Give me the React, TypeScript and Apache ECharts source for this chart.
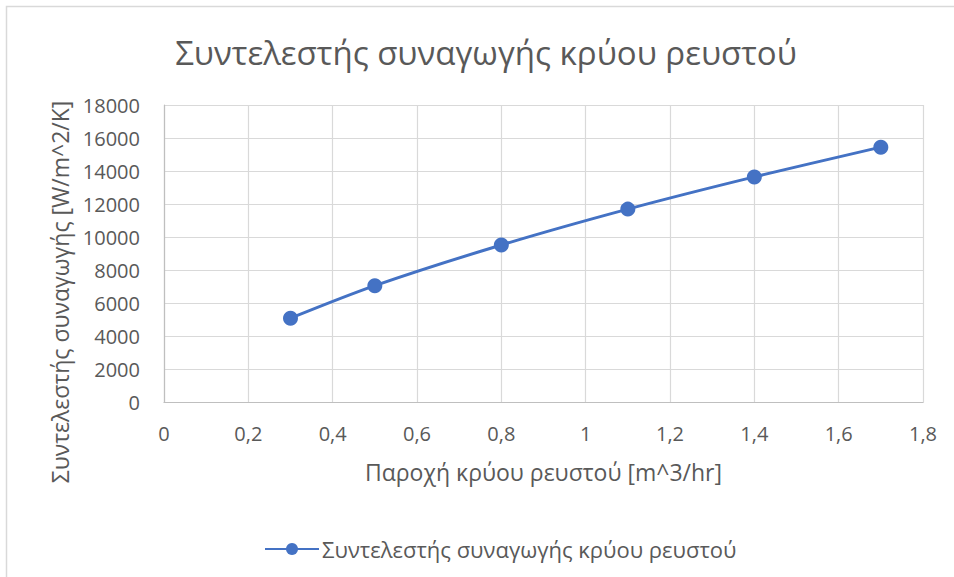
import React, { useEffect, useRef } from "react";
import * as echarts from "echarts";

// Flow rate of the cold fluid [m^3/hr]
const flowRates = [0.3, 0.5, 0.8, 1.1, 1.4, 1.7];
// Heat transfer coefficient of the cold fluid [W/m^2/K]
const coefficients = [5100, 7070, 9530, 11700, 13650, 15450];

const seriesName = "Συντελεστής συναγωγής κρύου ρευστού";
const chartTitle = "Συντελεστής συναγωγής κρύου ρευστού";
const xAxisTitle = "Παροχή κρύου ρευστού [m^3/hr]";
const yAxisTitle = "Συντελεστής συναγωγής [W/m^2/K]";

const FONT = "'Open Sans', 'Noto Sans', sans-serif";
const TEXT = "#595959";
const BLUE = "#4472C4";

export default function App() {
  const ref = useRef<HTMLDivElement>(null);

  useEffect(() => {
    if (!ref.current) return;
    const chart = echarts.init(ref.current, undefined, { renderer: "svg" });
    const points = flowRates.map((x, i) => [x, coefficients[i]]);

    chart.setOption({
      animation: false,
      backgroundColor: "#ffffff",
      textStyle: { fontFamily: FONT, color: TEXT },
      graphic: [
        {
          type: "rect",
          silent: true,
          shape: { x: 6.5, y: 6.5, width: 980, height: 620 },
          style: { fill: "none", stroke: "#D9D9D9", lineWidth: 1.5 },
        },
        {
          type: "text",
          x: 486,
          y: 52,
          style: {
            text: chartTitle,
            fontFamily: FONT,
            fontSize: 33,
            fill: TEXT,
            align: "center",
            verticalAlign: "middle",
          },
        },
        {
          // vertical axis title, reading bottom to top
          type: "text",
          x: 60,
          y: 292,
          rotation: Math.PI / 2,
          style: {
            text: yAxisTitle,
            fontFamily: FONT,
            fontSize: 23,
            fill: TEXT,
            align: "center",
            verticalAlign: "middle",
          },
        },
      ],
      grid: { left: 164, right: 31, top: 105, bottom: 174.5, containLabel: false },
      legend: {
        data: [seriesName],
        left: 259,
        top: 533,
        itemWidth: 54,
        itemHeight: 15,
        itemGap: 4,
        textStyle: { fontFamily: FONT, fontSize: 22, color: TEXT, padding: [0, 0, 0, -2] },
      },
      xAxis: {
        type: "value",
        min: 0,
        max: 1.8,
        interval: 0.2,
        name: xAxisTitle,
        nameLocation: "middle",
        nameGap: 58,
        nameTextStyle: { fontFamily: FONT, fontSize: 23, color: TEXT },
        axisLine: { show: true, lineStyle: { color: "#BFBFBF", width: 1.2 } },
        axisTick: { show: false },
        axisLabel: {
          margin: 21,
          fontFamily: FONT,
          fontSize: 20,
          color: TEXT,
          formatter: (v: number) => String(Math.round(v * 10) / 10).replace(".", ","),
        },
        splitLine: { show: true, lineStyle: { color: "#D9D9D9", width: 1.2 } },
      },
      yAxis: {
        type: "value",
        min: 0,
        max: 18000,
        interval: 2000,
        axisLine: { show: true, lineStyle: { color: "#BFBFBF", width: 1.2 } },
        axisTick: { show: false },
        axisLabel: {
          margin: 24,
          fontFamily: FONT,
          fontSize: 20,
          color: TEXT,
          formatter: (v: number) => String(v),
        },
        splitLine: { show: true, lineStyle: { color: "#D9D9D9", width: 1.2 } },
      },
      series: [
        {
          name: seriesName,
          type: "line",
          data: points,
          smooth: 0.3,
          symbol: "circle",
          symbolSize: 15,
          itemStyle: { color: BLUE },
          lineStyle: { color: BLUE, width: 3 },
        },
      ],
    });

    return () => chart.dispose();
  }, []);

  return (
    <div
      ref={ref}
      style={{ position: "fixed", left: 0, top: 0, width: 954, height: 577 }}
    />
  );
}
